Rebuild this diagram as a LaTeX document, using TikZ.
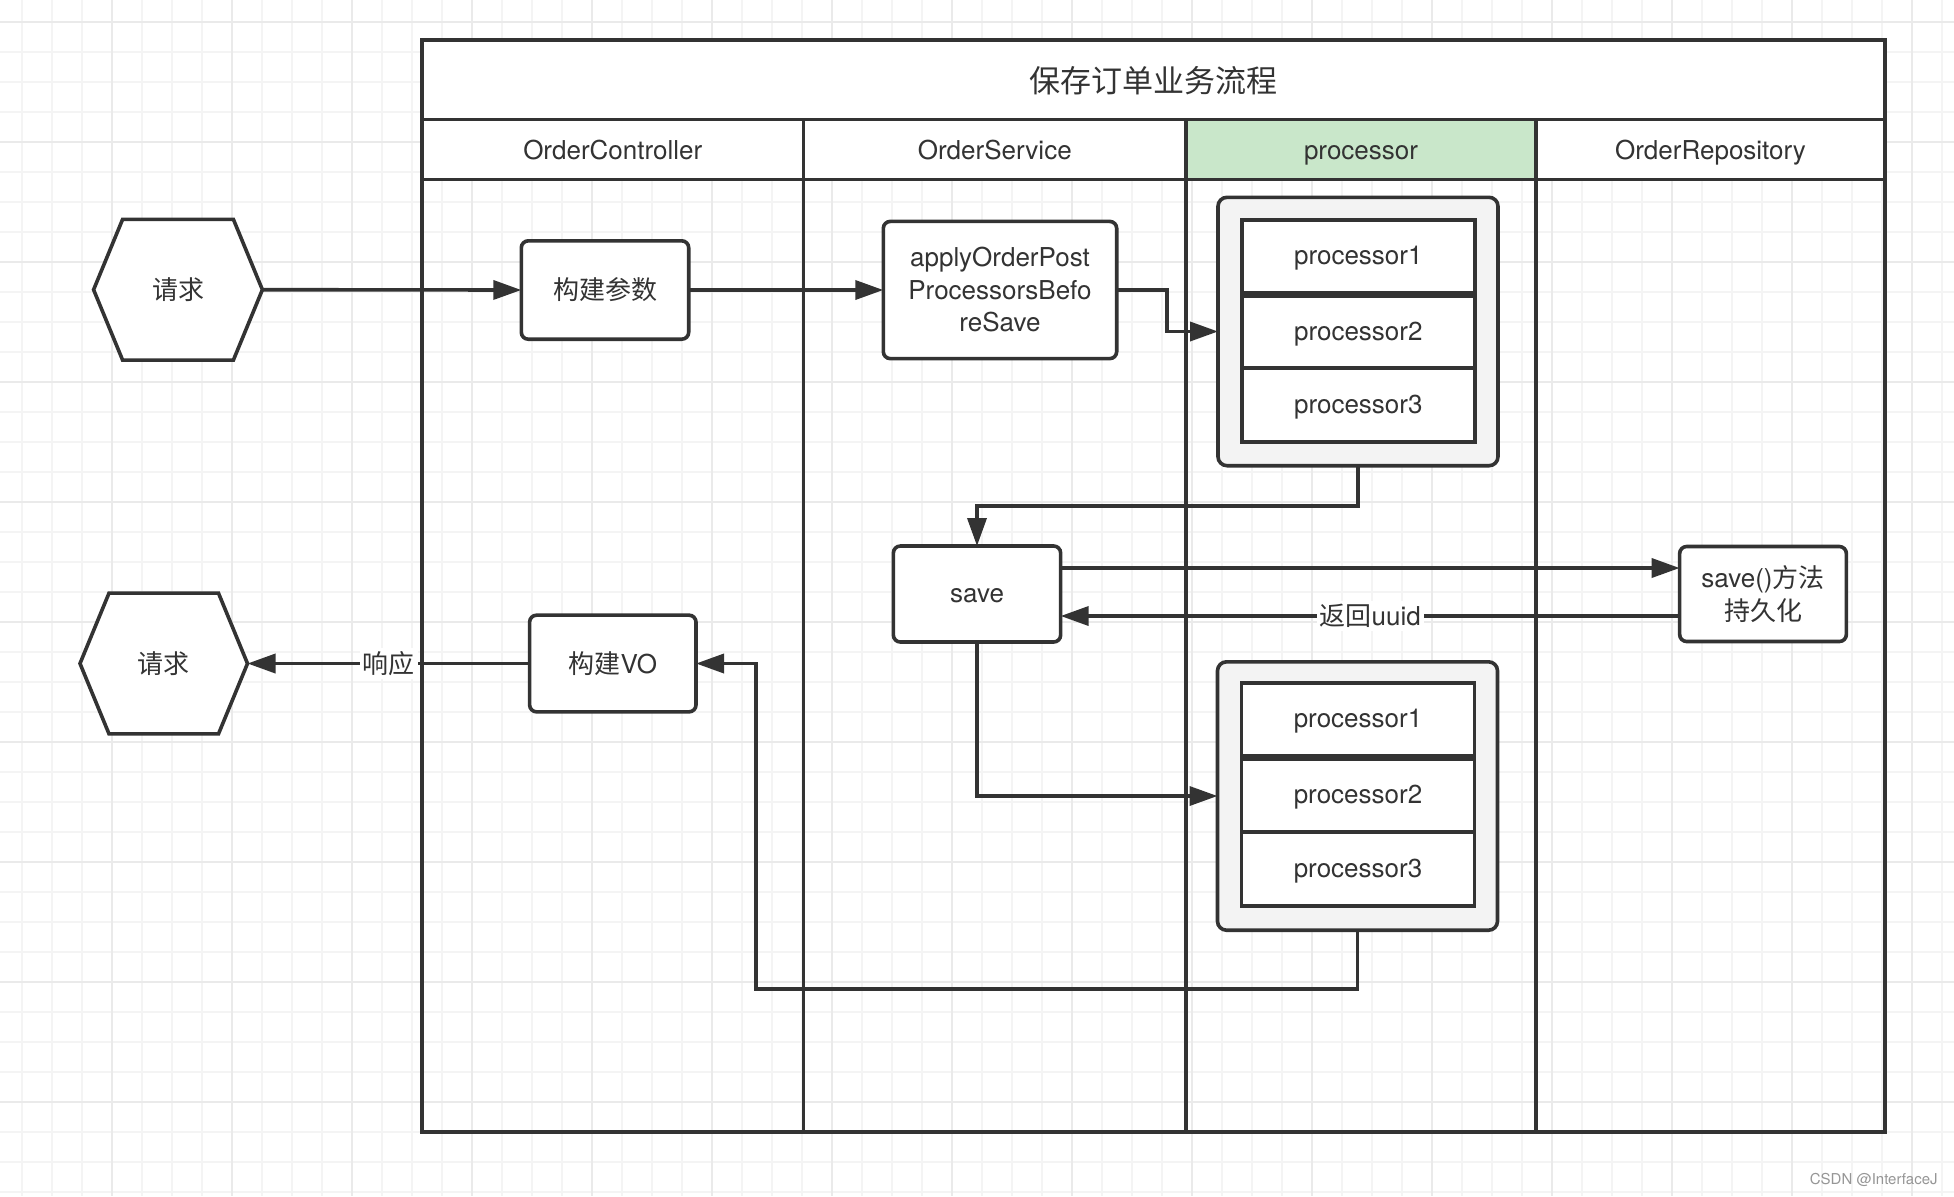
\documentclass[tikz,border=0pt]{standalone}
\usepackage{fontspec}
\setmainfont{TeX Gyre Heros}
\newfontfamily\cjk{Noto Sans CJK SC}
\usetikzlibrary{arrows.meta}
\definecolor{dark}{RGB}{51,51,51}
\definecolor{gminor}{RGB}{244,244,244}
\definecolor{gmajor}{RGB}{234,234,234}
\definecolor{hdrgreen}{RGB}{201,231,202}
\definecolor{grpfill}{RGB}{243,243,243}
\definecolor{wmgray}{RGB}{150,150,150}
\newcommand{\nfont}{\fontsize{13pt}{16.25pt}\selectfont}
\newcommand{\tfont}{\fontsize{15.5pt}{18pt}\selectfont}
\begin{document}
\begin{tikzpicture}[x=0.5pt,y=-0.5pt,
  plain/.style={draw=dark,line width=1.8pt},
  txt/.style={inner sep=0pt,text=dark,font=\nfont,align=center},
  oneline/.style={text height=11pt,text depth=3pt},
  box/.style={draw=dark,line width=1.8pt,fill=white,rounded corners=3.5pt,inner sep=0pt,outer sep=0pt,align=center,text=dark,font=\nfont},
  grp/.style={draw=dark,line width=1.8pt,fill=grpfill,rounded corners=4.5pt,inner sep=0pt,outer sep=0pt,minimum width=140pt,minimum height=134.2pt},
  row/.style={draw=dark,line width=1.8pt,fill=white,inner sep=0pt,outer sep=0pt,minimum width=116.6pt,text=dark,font=\nfont,oneline},
  hexframe/.style={inner sep=0pt,outer sep=0pt,minimum width=84.4pt,minimum height=70.35pt},
  conn/.style={draw=dark,line width=1.8pt,-{Triangle[length=14pt,width=9.5pt]}},
  lbl/.style={fill=white,inner sep=1.5pt,text=dark,font=\nfont},
  gminorline/.style={draw=gminor,line width=1pt},
  gmajorline/.style={draw=gmajor,line width=1pt}
]
\useasboundingbox (0,0) rectangle (1954,1196);
\fill[white] (0,0) rectangle (1954,1196);
% grid
\foreach \i in {0,...,64} {\draw[gminorline] ({21.7+30*\i},0) -- ({21.7+30*\i},1196);}
\foreach \i in {0,...,39} {\draw[gminorline] (0,{21.7+30*\i}) -- (1954,{21.7+30*\i});}
\foreach \i in {0,...,15} {\draw[gmajorline] ({111.7+120*\i},0) -- ({111.7+120*\i},1196);}
\foreach \i in {0,...,9} {\draw[gmajorline] (0,{21.7+120*\i}) -- (1954,{21.7+120*\i});}

% pool
\fill[white] (422,40) rectangle (1885,179.5);
\fill[hdrgreen] (1186,119.5) rectangle (1536,179.5);
\draw[plain] (422,40) rectangle (1885,1132);
\draw[plain] (422,119.5) -- (1885,119.5);
\draw[plain] (422,179.5) -- (1885,179.5);
\foreach \x in {803.5,1186,1536} {\draw[plain] (\x,119.5) -- (\x,1132);}
\node[txt,font=\tfont] (title) at (1153.5,81) {\cjk 保存订单业务流程};
\node[txt,anchor=base] (hc) at (612.75,159.5) {OrderController};
\node[txt,anchor=base] (hs) at (994.75,159.5) {OrderService};
\node[txt,anchor=base] (hp) at (1361,159.5) {processor};
\node[txt,anchor=base] (hr) at (1710.5,159.5) {OrderRepository};

% hexagons
\node[hexframe] (req) at (178,289.7) {};
\draw[plain,fill=white] (req.west) -- ([xshift=14.5pt]req.north west) -- ([xshift=-14.5pt]req.north east) -- (req.east) -- ([xshift=-14.5pt]req.south east) -- ([xshift=14.5pt]req.south west) -- cycle;
\node[txt] (reqt) at (req) {\cjk 请求};
\node[hexframe,minimum width=83.75pt] (resp) at (163.75,663.5) {};
\draw[plain,fill=white] (resp.west) -- ([xshift=14.5pt]resp.north west) -- ([xshift=-14.5pt]resp.north east) -- (resp.east) -- ([xshift=-14.5pt]resp.south east) -- ([xshift=14.5pt]resp.south west) -- cycle;
\node[txt] (respt) at (resp) {\cjk 请求};

% boxes
\node[box,minimum width=83.7pt,minimum height=49.2pt] (bp) at (605,290) {\cjk 构建参数};
\node[box,minimum width=116.7pt,minimum height=68.6pt] (apply) at (1000,290) {applyOrderPost\\ProcessorsBefo\\reSave};
\node[grp] (g1) at (1358,331.5) {};
\node[row,minimum height=36.5pt] (g1p1) at (1358.3,256.5) {processor1};
\node[row,minimum height=36pt] (g1p2) at (1358.3,332) {processor2};
\node[row,minimum height=37pt] (g1p3) at (1358.3,405) {processor3};
\node[box,oneline,minimum width=83.65pt,minimum height=48pt] (save) at (977,594) {save};
\node[box,minimum width=83.35pt,minimum height=47.5pt] (repo) at (1763,594) {save(){\cjk 方法}\\{\cjk 持久化}};
\node[grp] (g2) at (1357.5,796) {};
\node[row,minimum height=36.5pt] (g2p1) at (1358,719.5) {processor1};
\node[row,minimum height=36.5pt] (g2p2) at (1358,795.5) {processor2};
\node[row,minimum height=37pt] (g2p3) at (1358,869) {processor3};
\node[box,minimum width=83.2pt,minimum height=48.35pt] (vo) at (612.8,663.5) {{\cjk 构建}VO};

% connectors
\draw[conn] (req.east) -- (bp.west);
\draw[conn] (bp.east) -- (apply.west);
\draw[conn] (apply.east) -- ++(50,0) |- (g1.west);
\draw[conn] (g1.south) -- ++(0,40) -| (save.north);
\draw[conn] ([yshift=13pt]save.east) -- ([yshift=13pt]repo.west);
\draw[conn] ([yshift=-11pt]repo.west) -- node[lbl] (lb1) {{\cjk 返回}uuid} ([yshift=-11pt]save.east);
\draw[conn] (save.south) |- (g2.west);
\draw[conn] (g2.south) -- ++(0,59) -| ([xshift=30pt]vo.east) -- (vo.east);
\draw[conn] (vo.west) -- node[lbl] (lb2) {\cjk 响应} (resp.east);

% watermark
\node[anchor=east,inner sep=0pt,text=wmgray,font=\fontsize{7.5pt}{9pt}\selectfont] (wmk) at (1938,1180) {CSDN @InterfaceJ};
\end{tikzpicture}
\end{document}
